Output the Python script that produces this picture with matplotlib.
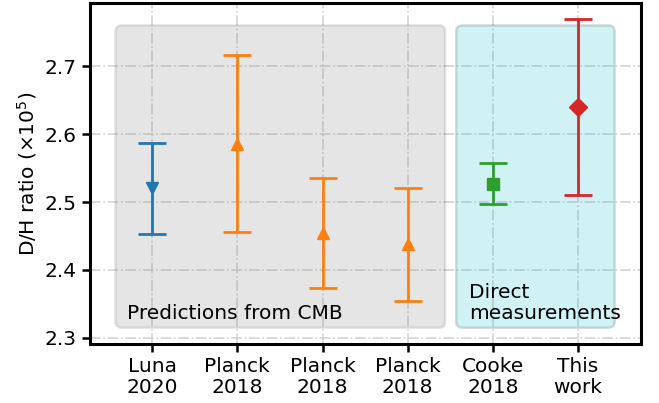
import matplotlib
matplotlib.use("Agg")
import matplotlib.pyplot as plt
from matplotlib.patches import FancyBboxPatch

labels = ["Luna\n2020", "Planck\n2018", "Planck\n2018", "Planck\n2018", "Cooke\n2018", "This\nwork"]
dh = [2.520, 2.586, 2.455, 2.438, 2.527, 2.640]
err = [0.067, 0.130, 0.081, 0.083, 0.030, 0.130]
markers = ["v", "^", "^", "^", "s", "D"]
colors = ["tab:blue", "tab:orange", "tab:orange", "tab:orange", "tab:green", "tab:red"]

fs = 14.5
fig = plt.figure(figsize=(6.59, 4.03), dpi=100)
ax = fig.add_axes([0.1366, 0.1464, 0.8361, 0.8462])

for i in range(len(dh)):
    ax.errorbar(i, dh[i], yerr=err[i], fmt=markers[i], color=colors[i],
                ms=9, capsize=10, elinewidth=2, capthick=2, zorder=3)

# shaded groups
ax.add_patch(FancyBboxPatch((-0.43, 2.315), 3.87, 0.445,
                            boxstyle="round,pad=0,rounding_size=0.07",
                            mutation_aspect=0.126,
                            fc="gray", ec="gray", alpha=0.2, lw=1.8, zorder=1))
ax.add_patch(FancyBboxPatch((3.57, 2.315), 1.86, 0.445,
                            boxstyle="round,pad=0,rounding_size=0.07",
                            mutation_aspect=0.126,
                            fc="tab:cyan", ec="darkslategray", alpha=0.2, lw=1.8, zorder=1))
ax.text(-0.29, 2.322, "Predictions from CMB", fontsize=fs, va="bottom")
ax.text(3.72, 2.322, "Direct\nmeasurements", fontsize=fs, va="bottom", linespacing=1.1)

ax.set_xlim(-0.73, 5.74)
ax.set_ylim(2.291, 2.793)
ax.set_xticks(range(len(labels)))
ax.set_xticklabels(labels, fontsize=fs, linespacing=1.1)
ax.set_yticks([2.3, 2.4, 2.5, 2.6, 2.7])
ax.tick_params(labelsize=fs, width=1.8, length=6)
ax.set_ylabel("D/H ratio (×10$^5$)", fontsize=fs)
ax.grid(True, ls="-.", color="lightgray", lw=1.2, zorder=0)
ax.set_axisbelow(True)
for s in ax.spines.values():
    s.set_linewidth(2.2)

fig.savefig("out.png", dpi=100)
